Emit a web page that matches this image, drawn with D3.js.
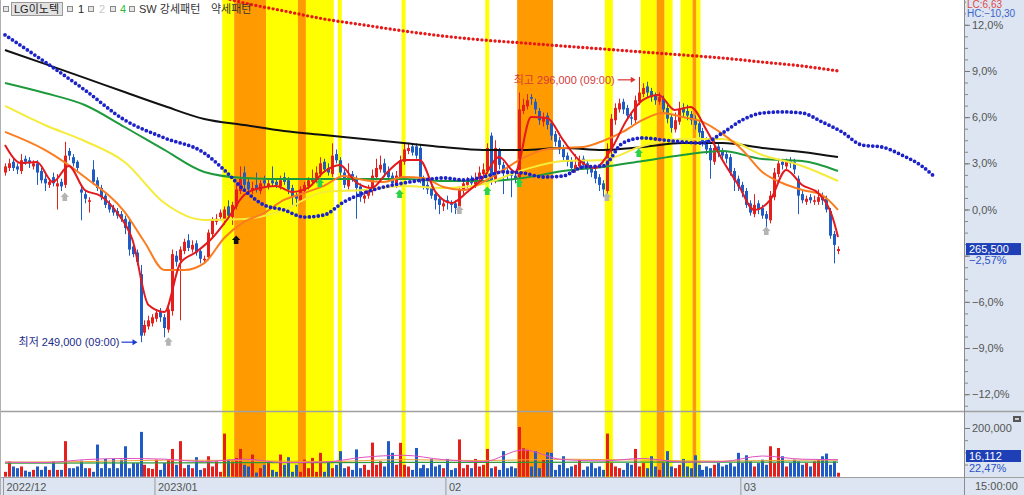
<!DOCTYPE html>
<html><head><meta charset="utf-8">
<script src="https://cdn.jsdelivr.net/npm/d3@7"></script>
<style>
body{margin:0;background:#fff;}
svg{display:block;font-family:"Liberation Sans",Arial,"Noto Sans CJK KR",sans-serif;}
</style></head>
<body><svg id="c" width="1024" height="495"></svg>
<script>
// ---- DATA (price values are % change vs. 272,500 base, as on the right axis) ----
const opens = [2.4,2.7,3.1,2.8,2.5,3.3,3.2,2.8,3.0,2.5, 2.0,1.6,2.1,1.5,1.8,1.6,3.8,3.4,3.1,1.3,
 1.0,0.5,2.6,1.9,1.4,0.9,0.4,0.1,-0.1,-0.3, -0.6,-0.8,-2.4,-2.8,-4.2,-8.0,-7.6,-7.4,-7.1,-6.6,
 -7.0,-7.8,-6.6,-3.0,-3.3,-2.7,-2.0,-2.6,-2.2,-2.7, -3.3,-3.1,-1.6,-0.8,-0.5,-0.6,0.2,-0.5,0.2,1.2,
 2.4,1.8,1.2,1.6,1.2,1.9,1.5,1.9,1.8,1.5, 2.1,1.9,1.4,0.9,0.6,1.2,1.5,1.8,1.9,2.3,
 3.1,2.7,2.3,3.6,3.2,2.4,1.5,2.3,2.0,1.5, 0.7,0.9,1.2,2.1,2.6,3.0,2.5,2.2,1.6,2.1,
 3.1,3.8,4.1,4.1,4.0,2.0,1.6,1.4,1.0,0.7, 0.2,0.6,0.4,0.4,0.2,1.2,1.6,2.0,1.6,2.0,
 2.3,2.5,4.8,1.9,3.8,2.9,2.5,2.3,2.2,2.1, 6.4,6.7,7.3,7.0,6.4,5.7,6.1,5.6,4.9,4.5,
 4.0,3.5,3.2,2.6,2.8,3.3,3.0,2.7,2.5,2.1, 1.7,1.2,3.8,5.8,6.5,7.0,6.6,6.0,5.8,7.0,
 7.5,8.0,7.7,7.4,7.0,7.2,6.6,6.0,5.2,5.7, 6.6,6.4,6.2,5.9,5.6,5.1,4.5,4.0,3.1,4.1,
 3.8,3.6,3.4,2.5,2.0,1.6,1.2,0.4,-0.3,0.4, 0.1,-0.3,-0.7,0.8,2.3,3.1,2.8,3.2,3.1,2.0,
 1.0,0.5,0.8,0.5,0.5,0.9,0.7,-0.1,-1.6,-2.7];
const closes = [2.8,3.0,2.7,2.6,3.2,3.1,3.0,3.0,2.4,1.9, 1.7,1.8,1.7,1.7,1.5,3.5,3.5,3.0,2.7,1.1,
 0.7,0.6,1.8,1.4,0.8,0.3,0.0,-0.2,-0.4,-0.6, -1.2,-2.6,-2.9,-3.4,-8.2,-7.5,-7.2,-7.0,-6.7,-7.0,
 -7.7,-6.5,-2.9,-3.4,-2.6,-2.1,-2.5,-2.3,-2.8,-3.2, -3.2,-1.5,-0.7,-0.6,-0.2,0.0,-0.4,0.3,1.3,2.0,
 1.6,1.3,1.4,1.3,1.7,1.7,1.7,1.7,1.6,1.9, 1.8,1.3,0.8,0.7,1.3,1.6,1.9,2.0,2.4,3.0,
 2.6,2.4,3.5,3.2,2.4,1.6,2.2,2.0,1.4,0.8, 0.9,1.3,2.2,2.7,2.9,2.4,2.1,1.7,2.2,3.2,
 3.9,4.0,3.7,3.5,1.9,1.5,1.3,0.9,0.6,0.3, 0.4,0.5,0.3,0.1,1.3,1.7,1.9,1.7,2.0,2.4,
 2.6,4.0,1.8,4.0,2.9,2.4,2.3,2.2,2.0,6.5, 6.8,7.1,7.2,6.5,5.8,6.0,5.5,4.8,4.4,3.9,
 3.4,3.1,2.7,2.9,3.2,2.9,2.6,2.4,2.0,1.6, 1.3,3.9,5.9,6.6,6.9,6.5,6.1,5.9,7.1,7.6,
 7.9,7.6,7.3,7.1,7.3,6.5,5.9,5.3,5.8,6.5, 6.3,6.1,5.8,5.5,5.0,4.4,3.9,3.2,4.0,3.7,
 3.5,3.3,2.4,1.9,1.5,1.1,0.3,-0.2,0.3,0.0, -0.4,-0.6,0.9,2.4,3.0,2.9,3.1,3.0,2.6,0.9,
 0.6,0.7,0.6,0.6,0.8,0.6,0.0,-1.7,-2.3,-2.57];
const highs = [3.0,3.3,3.3,3.0,3.6,3.5,3.4,3.2,3.2,2.7, 2.3,2.0,2.4,2.3,2.0,4.4,4.0,3.6,3.2,1.5,
 1.2,0.8,3.2,2.1,1.6,1.1,0.6,0.3,0.1,-0.1, -0.4,-0.6,-2.2,-2.6,-3.6,-7.2,-6.9,-6.8,-6.5,-6.4,
 -6.8,-6.3,-2.6,-2.7,-2.4,-1.9,-1.6,-2.0,-2.0,-2.5, -3.0,-1.3,-0.5,-0.3,0.0,0.2,0.6,0.5,1.6,2.8,
 2.8,2.0,1.8,2.4,1.9,2.2,2.0,2.8,2.0,2.2, 2.4,2.1,1.6,1.1,1.5,1.8,2.1,2.6,2.8,3.4,
 3.3,3.0,4.3,3.9,3.4,2.6,3.0,2.5,2.2,1.7, 1.2,1.6,2.6,3.3,3.5,3.3,2.8,2.4,2.5,3.5,
 4.3,4.3,4.3,4.3,4.2,2.2,1.8,1.6,1.2,0.9, 0.6,0.9,0.6,0.6,1.5,2.0,2.1,2.2,2.4,2.8,
 3.0,4.3,5.0,4.5,4.0,3.1,2.8,2.5,2.4,7.6, 7.2,7.5,7.5,7.2,6.6,6.3,6.3,5.8,5.1,4.7,
 4.2,3.7,3.4,3.6,3.5,3.5,3.2,2.9,2.7,2.3, 1.9,4.3,6.2,6.9,7.2,7.2,6.8,6.3,7.4,8.62,
 8.2,8.3,7.9,7.6,7.6,7.4,6.8,6.2,6.3,7.0, 6.9,6.8,6.4,6.1,5.8,5.3,4.7,4.2,4.5,4.3,
 4.0,3.8,3.6,2.7,2.2,1.8,1.4,0.6,1.0,0.6, 0.3,-0.1,1.2,2.7,3.3,3.3,3.3,3.4,3.3,2.2,
 1.2,0.9,1.0,0.9,1.3,1.1,0.9,0.1,-1.4,-2.4];
const lows = [2.2,2.5,2.5,2.3,2.3,2.9,2.7,2.6,1.6,1.7, 1.2,1.4,1.5,0.0,1.2,1.4,3.2,2.8,2.4,-0.7,
 0.4,-0.2,1.6,1.2,0.6,0.1,-0.2,-0.4,-0.6,-0.8, -1.6,-3.0,-3.1,-3.6,-8.62,-8.2,-7.8,-7.6,-7.3,-7.3,
 -8.3,-8.0,-6.9,-3.7,-7.2,-2.9,-2.7,-2.8,-3.0,-3.5, -3.5,-3.3,-1.8,-1.0,-0.7,-1.0,-0.6,-1.0,0.0,1.0,
 1.2,1.0,1.0,1.1,1.0,1.5,1.3,1.5,1.4,1.3, 1.6,1.0,0.3,0.2,0.4,1.0,1.3,1.6,1.7,2.1,
 2.4,2.2,2.1,3.0,2.2,1.4,1.3,1.8,-0.6,0.5, 0.4,0.7,0.9,1.9,2.4,2.1,1.9,1.5,1.4,1.9,
 2.9,3.6,3.5,3.3,1.7,1.3,1.0,0.7,0.0,-0.3, -0.1,0.0,-0.2,-0.3,0.0,1.0,1.4,1.5,1.4,1.8,
 2.1,2.3,1.6,1.7,2.6,1.0,1.9,0.8,1.7,1.9, 6.2,6.5,6.8,6.2,5.5,5.4,5.2,4.5,4.1,3.6,
 3.1,2.8,2.4,2.4,2.6,2.6,2.3,2.1,1.7,1.2, 0.8,1.0,3.6,5.5,6.3,6.2,5.8,5.5,5.6,6.8,
 7.3,7.3,7.0,6.8,6.8,6.2,5.6,5.0,5.0,5.5, 6.0,5.8,5.5,5.2,4.7,4.1,3.6,2.0,2.9,3.4,
 3.2,3.0,2.2,1.2,1.2,0.8,0.1,-0.4,-0.5,-0.3, -0.6,-1.5,-0.9,0.6,2.1,2.6,2.6,2.7,2.3,-0.3,
 0.4,0.3,0.4,0.3,0.3,0.3,-0.2,-1.9,-3.5,-2.9];
// volume, thousands of shares
const volumes = [20,62,42,35,42,25,20,28,42,28, 42,28,63,28,28,146,35,35,42,66,
 35,35,20,132,35,73,35,73,35,70, 125,35,56,56,184,49,35,32,70,28,
 56,70,114,49,146,35,49,35,80,28, 35,84,42,63,20,177,70,63,77,114,
 49,42,91,17,35,49,56,28,20,91, 49,80,20,49,20,70,35,77,20,98,
 20,63,35,49,105,35,42,28,112,35, 49,28,140,49,63,42,146,98,49,139,
 49,42,28,118,35,49,35,73,42,49, 35,73,28,35,153,35,49,35,73,42,
 49,114,35,42,28,105,35,42,35,204, 117,110,42,105,35,70,100,98,28,49,
 84,35,42,49,70,28,42,56,35,42, 28,177,56,42,35,28,56,49,114,42,
 56,35,84,42,28,56,105,42,35,49, 73,42,35,88,49,28,42,35,49,56,
 42,49,56,42,98,56,88,63,42,56, 70,49,125,56,118,84,42,56,70,63,
 49,56,42,63,70,84,95,49,63,16.112];

// moving averages (sampled at bar indices)
const maIdx = [0,10,20,30,40,50,60,70,80,90,100,110,120,130,140,150,160,170,180,190,200,209];
const maBlack  = [10.36,9.46,8.55,7.63,6.72,5.88,5.49,5.10,4.84,4.58,4.32,4.06,3.87,3.87,4.0,3.87,4.06,4.32,4.32,4.0,3.74,3.41];
const maGreen  = [8.22,7.57,6.79,5.36,3.87,2.44,2.05,1.98,1.98,1.98,1.98,1.85,1.85,2.05,2.5,2.76,3.15,3.54,3.8,3.28,3.15,2.5];
const maYellow = [6.73,5.49,4.45,3.09,0.42,-0.68,-0.62,-0.03,1.14,1.27,1.53,1.4,1.66,2.57,3.15,3.22,4.13,4.58,4.58,3.54,2.83,1.85];
const orangeIdx = [0,10,20,30,35,40,45,50,55,60,65,70,75,80,85,90,95,100,105,110,115,120,125,130,135,140,145,150,155,160,165,170,175,180,185,190,195,200,205,209];
const maOrange = [5.04,3.87,2.11,-0.16,-2.11,-3.93,-3.93,-3.48,-1.85,-0.81,-0.23,0.62,1.07,1.53,2.18,1.92,1.79,2.11,2.05,1.46,1.27,1.79,2.57,3.35,3.87,4.0,4.06,4.45,5.04,5.82,6.27,6.01,5.69,4.91,3.87,2.44,1.72,1.27,0.94,-0.03];
const redIdx = [0,4,8,12,16,20,24,28,32,36,40,44,48,52,56,60,64,68,72,76,80,84,88,92,96,100,104,108,112,116,120,124,128,132,136,140,144,148,152,156,160,164,168,172,176,180,184,188,192,196,200,204,208,209];
const maRed = [4.19,3.02,3.09,1.79,2.83,1.27,0.88,-0.16,-1.98,-6.21,-6.66,-3.48,-2.76,-1.85,-0.55,0.94,1.4,1.53,1.14,1.4,
 2.44,2.89,1.79,1.4,2.44,3.22,3.22,1.14,0.42,1.14,2.05,3.41,2.44,6.01,5.95,4.52,3.22,2.7,3.87,5.82,
 7.11,7.44,6.47,6.66,5.17,3.22,1.59,-0.03,0.62,2.57,1.59,1.07,-0.81,-1.79];
const blueDotIdx = [0,10,20,30,40,50,55,60,65,70,75,80,85,90,95,100,105,110,115,120,125,130,135,140,145,150,155,160,165,170,175,180,185,190,195,200,205,210,215,220,225,230,233];
const blueDot = [11.34,9.59,7.77,5.82,4.65,3.67,2.57,1.27,0.29,-0.03,-0.49,-0.36,0.49,1.07,1.46,1.72,1.92,2.05,1.92,2.11,2.44,2.37,2.11,2.18,2.76,2.83,4.32,4.65,4.52,4.39,4.32,4.97,5.82,6.27,6.34,6.27,5.69,5.04,4.19,4.06,3.54,2.83,2.18];
const redDotIdx = [50,55,60,70,80,90,100,110,120,130,140,150,160,170,180,190,200,209];
const redDot = [14.0,13.74,13.42,12.9,12.38,11.99,11.6,11.27,11.01,10.82,10.62,10.43,10.23,10.04,9.84,9.58,9.32,9.0];
// volume moving averages (thousands)
const volMaIdx = [0,10,20,30,40,50,60,70,80,90,100,110,120,130,140,150,160,170,180,190,200,209];
const volMa5 = [60,58,70,75,72,62,72,58,60,80,88,70,62,110,70,65,75,60,62,85,72,70];
const volMa20Idx = [0,20,40,60,80,100,120,140,160,180,200,209];
const volMa20 = [60,62,68,66,62,70,66,72,68,64,68,68];
const volMa60Idx = [0,40,80,120,160,209];
const volMa60 = [56,57,58,59,60,60];

// pattern highlight bands: [first bar, last bar, kind]
const bandFirst = [55,58,66,74,76,84,100,121,129,151,160,164,166,170,173,174];
const bandLast  = [57,65,73,75,82,84,100,121,137,152,163,165,167,172,173,174];
const bandKind  = ['Y','O','Y','O','Y','Y','Y','Y','O','Y','Y','O','Y','Y','O','Y'];

// signal markers
const markIdx  = [15,41,114,151,191,58,79,99,121,129,159];
const markVal  = [0.81,-8.6,-0.03,0.81,-1.4,-1.98,1.72,1.0,1.2,1.72,3.67];
const markKind = ['gray','gray','gray','gray','gray','black','green','green','green','green','green'];

// x-axis month labels
const monthFirstBar = [0,38,111,185];
const monthLabels = ['2022/12','2023/01','02','03'];
const pctTicks = [12,9,6,3,0,-6,-9,-12];

const lastPrice = 265500, lowPrice = 249000, highPrice = 296000;
const lcValue = 6.63, hcValue = -10.30, volRatio = 22.47;
const lowBar = 34, highBar = 159;

// ---- CHART ----
const svg = d3.select('#c');
const N = closes.length;
const plotR = 964, mainBot = 411, volBot = 477;
const x = d3.scaleLinear().domain([-0.5, N - 0.5]).range([3, 840]);
const step = x(1) - x(0);
const y = d3.scaleLinear().domain([-12, 12]).range([394.2, 24.8]);
const yv = d3.scaleLinear().domain([0, 200]).range([476.7, 428]);
const UP = '#e5201c', DN = '#1f5bc4';
const dec2 = v => d3.format('.2f')(v).replace('.', ',');
const fmtPct = v => d3.format('.1f')(v).replace('.', ',') + '%';

// backgrounds
svg.append('rect').attr('x',0).attr('y',0).attr('width',1024).attr('height',495).attr('fill','#fff');
svg.append('rect').attr('x',plotR).attr('y',0).attr('width',1024-plotR).attr('height',495).attr('fill','#dce5f1');
svg.append('rect').attr('x',0).attr('y',volBot).attr('width',1024).attr('height',495-volBot).attr('fill','#dce5f1');

const defs = svg.append('defs');
defs.append('clipPath').attr('id','clipMain').append('rect').attr('x',0).attr('y',0).attr('width',plotR).attr('height',mainBot);
defs.append('clipPath').attr('id','clipVol').append('rect').attr('x',0).attr('y',mainBot+1).attr('width',plotR).attr('height',volBot-mainBot-1);

// bands
svg.append('g').selectAll('rect').data(bandFirst.map((f,k)=>({f, l:bandLast[k], k:bandKind[k]})))
  .join('rect')
  .attr('x', d => x(d.f) - step/2).attr('width', d => x(d.l) - x(d.f) + step)
  .attr('y', 0).attr('height', volBot)
  .attr('fill', d => d.k === 'O' ? '#ff9a00' : '#ffff00');

// separators
svg.append('line').attr('x1',0).attr('x2',1024).attr('y1',mainBot+0.5).attr('y2',mainBot+0.5).attr('stroke','#a0a0a0').attr('stroke-width',1.5);
svg.append('line').attr('x1',0).attr('x2',1024).attr('y1',volBot+0.5).attr('y2',volBot+0.5).attr('stroke','#a0a0a0');
svg.append('line').attr('x1',plotR+0.5).attr('x2',plotR+0.5).attr('y1',0).attr('y2',495).attr('stroke','#8c8c8c');
svg.append('line').attr('x1',0.5).attr('x2',0.5).attr('y1',0).attr('y2',495).attr('stroke','#b0b0b0');

const main = svg.append('g').attr('clip-path','url(#clipMain)');
const vol = svg.append('g').attr('clip-path','url(#clipVol)');

// candles
const cg = main.append('g');
d3.range(N).forEach(i => {
  const up = closes[i] >= opens[i];
  const col = up ? UP : DN;
  const cx = Math.round(x(i));
  cg.append('line').attr('x1',cx+0.5).attr('x2',cx+0.5).attr('y1',y(highs[i])).attr('y2',y(lows[i])).attr('stroke',col).attr('stroke-width',1);
  const t = y(Math.max(opens[i],closes[i])), b = y(Math.min(opens[i],closes[i]));
  cg.append('rect').attr('x',cx-1).attr('width',3).attr('y',t).attr('height',Math.max(1,b-t)).attr('fill',col);
});

// MA lines
const pairs = (idx, vals) => idx.map((i,k)=>[i, vals[k]]);
const ln = d3.line().x(d=>x(d[0])).y(d=>y(d[1])).curve(d3.curveMonotoneX);
const drawLine = (idx, vals, color, w, dash) => {
  const p = main.append('path').attr('d', ln(pairs(idx, vals))).attr('fill','none')
    .attr('stroke', color).attr('stroke-width', w).attr('stroke-linejoin','round');
  if (dash) p.attr('stroke-dasharray', dash).attr('stroke-linecap','round');
};
drawLine(maIdx, maBlack, '#111111', 2);
drawLine(maIdx, maGreen, '#1e9a3c', 2);
drawLine(maIdx, maYellow, '#f5ec3a', 2);
drawLine(orangeIdx, maOrange, '#fb7d1f', 2);
drawLine(redIdx, maRed, '#e3191e', 2);
drawLine(blueDotIdx, blueDot, '#1c22c8', 3.8, '0 4.5');
drawLine(redDotIdx, redDot, '#e81818', 3.4, '0 4.4');

// markers
const house = 'M0,-4.5L4.2,0L2.3,0L2.3,4L-2.3,4L-2.3,0L-4.2,0Z';
const markCol = {gray:'#b4b4b4', black:'#111', green:'#2bd24a'};
main.append('g').selectAll('path').data(markIdx.map((i,k)=>({i, v:markVal[k], c:markKind[k]})))
  .join('path').attr('d', house)
  .attr('transform', d => `translate(${x(d.i)},${y(d.v)})`)
  .attr('fill', d => markCol[d.c]);

// annotations
const fontK = '"Liberation Sans","Noto Sans CJK KR",sans-serif';
const lowY = y(lows[lowBar]);
main.append('text').attr('x', x(lowBar) - 21).attr('y', lowY + 4).attr('text-anchor','end')
  .attr('font-size', 11).attr('font-family', fontK).attr('fill','#1d2b8c')
  .text('최저 ' + d3.format(',')(lowPrice) + ' (09:00)');
main.append('line').attr('x1', x(lowBar)-19).attr('x2', x(lowBar)-6).attr('y1', lowY).attr('y2', lowY).attr('stroke','#1a3cd0').attr('stroke-width',1.2);
main.append('path').attr('d', `M${x(lowBar)-3},${lowY}L${x(lowBar)-8},${lowY-3}L${x(lowBar)-8},${lowY+3}Z`).attr('fill','#1a3cd0');
const hiY = y(highs[highBar]) + 3;
main.append('text').attr('x', x(highBar) - 24).attr('y', hiY + 4).attr('text-anchor','end')
  .attr('font-size', 11).attr('font-family', fontK).attr('fill','#d63a3a')
  .text('최고 ' + d3.format(',')(highPrice) + ' (09:00)');
main.append('line').attr('x1', x(highBar)-21).attr('x2', x(highBar)-7).attr('y1', hiY).attr('y2', hiY).attr('stroke','#e03030').attr('stroke-width',1.2);
main.append('path').attr('d', `M${x(highBar)-3},${hiY}L${x(highBar)-8},${hiY-3}L${x(highBar)-8},${hiY+3}Z`).attr('fill','#e03030');

// volume bars
vol.append('g').selectAll('rect').data(volumes).join('rect')
  .attr('x', (d,i) => Math.round(x(i)) - 1).attr('width', 3)
  .attr('y', d => yv(d)).attr('height', d => yv(0) - yv(d))
  .attr('fill', (d,i) => closes[i] >= opens[i] ? UP : DN);
const lv = d3.line().x(d=>x(d[0])).y(d=>yv(d[1])).curve(d3.curveMonotoneX);
vol.append('path').attr('d', lv(pairs(volMa60Idx, volMa60))).attr('fill','none').attr('stroke','#2e9a3a').attr('stroke-width',1.2);
vol.append('path').attr('d', lv(pairs(volMa20Idx, volMa20))).attr('fill','none').attr('stroke','#f0a030').attr('stroke-width',1);
vol.append('path').attr('d', lv(pairs(volMaIdx, volMa5))).attr('fill','none').attr('stroke','#e050c0').attr('stroke-width',1);

// right axis (percent)
const axMinor = d3.axisRight(y).tickValues(d3.range(-12.75, 13.6, 0.75)).tickSize(3).tickFormat('');
const gMinor = svg.append('g').attr('transform',`translate(${plotR+1},0)`).call(axMinor);
gMinor.select('.domain').remove();
gMinor.selectAll('line').attr('stroke','#888');
const axR = d3.axisRight(y).tickValues(pctTicks.concat([-3])).tickSize(5).tickPadding(2)
  .tickFormat(v => pctTicks.includes(v) ? fmtPct(v) : '');
const gR = svg.append('g').attr('transform',`translate(${plotR+1},0)`).call(axR);
gR.select('.domain').remove();
gR.selectAll('line').attr('stroke','#777');
gR.selectAll('text').attr('font-size',11).attr('fill','#555').attr('font-family','"Liberation Sans",Arial,sans-serif');

// volume axis
const axV = d3.axisRight(yv).tickValues([200]).tickSize(5).tickPadding(2).tickFormat(v => d3.format(',')(v*1000));
const gV = svg.append('g').attr('transform',`translate(${plotR+1},0)`).call(axV);
gV.select('.domain').remove();
gV.selectAll('line').attr('stroke','#777');
gV.selectAll('text').attr('font-size',11).attr('fill','#555').attr('font-family','"Liberation Sans",Arial,sans-serif');
const gVm = svg.append('g').attr('transform',`translate(${plotR+1},0)`).call(d3.axisRight(yv).tickValues([50,100,150]).tickSize(3).tickFormat(''));
gVm.select('.domain').remove(); gVm.selectAll('line').attr('stroke','#888');
svg.append('rect').attr('x',1013).attr('y',416).attr('width',8).attr('height',6).attr('fill','#555');
svg.append('rect').attr('x',1015).attr('y',418).attr('width',4).attr('height',2).attr('fill','#ccc');

// LC / HC labels
svg.append('rect').attr('x',plotR+2).attr('y',0).attr('width',1024-plotR-2).attr('height',19).attr('fill','#dce5f1');
svg.append('text').attr('x',967).attr('y',8).attr('font-size',10).attr('fill','#e04848').text('LC:' + dec2(lcValue));
svg.append('text').attr('x',967).attr('y',17).attr('font-size',10).attr('fill','#3a64cc').text('HC:' + dec2(hcValue));

// current price label
const lastY = y(closes[N-1]);
svg.append('rect').attr('x',966).attr('y',lastY-6).attr('width',55).attr('height',12).attr('fill','#1e3fb6');
svg.append('text').attr('x',969).attr('y',lastY+4).attr('font-size',11).attr('fill','#fff').text(d3.format(',')(lastPrice));
svg.append('text').attr('x',969).attr('y',lastY+15).attr('font-size',11).attr('fill','#2a50c8').text(dec2(closes[N-1]) + '%');

// current volume label
const lastV = volumes[N-1];
svg.append('rect').attr('x',966).attr('y',450).attr('width',55).attr('height',12).attr('fill','#1e3fb6');
svg.append('text').attr('x',969).attr('y',460).attr('font-size',11).attr('fill','#fff').text(d3.format(',')(Math.round(lastV*1000)));
svg.append('text').attr('x',969).attr('y',472).attr('font-size',11).attr('fill','#2a50c8').text(dec2(volRatio) + '%');

// x axis
const axX = d3.axisBottom(x).tickValues(monthFirstBar.map(i => i - 0.5)).tickSize(18)
  .tickFormat((d,k) => monthLabels[k]);
const gX = svg.append('g').attr('transform',`translate(0,${volBot})`).call(axX);
gX.select('.domain').remove();
gX.selectAll('line').attr('stroke','#9a9a9a');
gX.selectAll('text').attr('text-anchor','start').attr('x',3).attr('y',6).attr('dy','0.71em')
  .attr('font-size',11).attr('fill','#555').attr('font-family','"Liberation Sans",Arial,sans-serif');
svg.append('text').attr('x',975).attr('y',490).attr('font-size',11).attr('fill','#555').text('15:00:00');

// legend
const lg = svg.append('g').attr('font-family', fontK).attr('font-size', 11);
[3, 67, 88, 110, 129].forEach(px => {
  lg.append('rect').attr('x',px+0.5).attr('y',6.5).attr('width',5).attr('height',5).attr('fill','#e6e6e6').attr('stroke','#8a8a8a');
});
lg.append('rect').attr('x',11.5).attr('y',2.5).attr('width',51).attr('height',13).attr('fill','#e2e2e2').attr('stroke','#9a9a9a');
lg.append('text').attr('x',14).attr('y',13).attr('fill','#222').text('LG이노텍');
lg.append('text').attr('x',78).attr('y',13).attr('fill','#222').text('1');
lg.append('text').attr('x',99).attr('y',13).attr('fill','#c8c8c8').text('2');
lg.append('text').attr('x',120).attr('y',13).attr('fill','#33bb33').text('4');
lg.append('text').attr('x',139).attr('y',13).attr('fill','#333').text('SW 강세패턴');
lg.append('text').attr('x',211).attr('y',13).attr('fill','#333').text('약세패턴');
</script>
</body></html>
